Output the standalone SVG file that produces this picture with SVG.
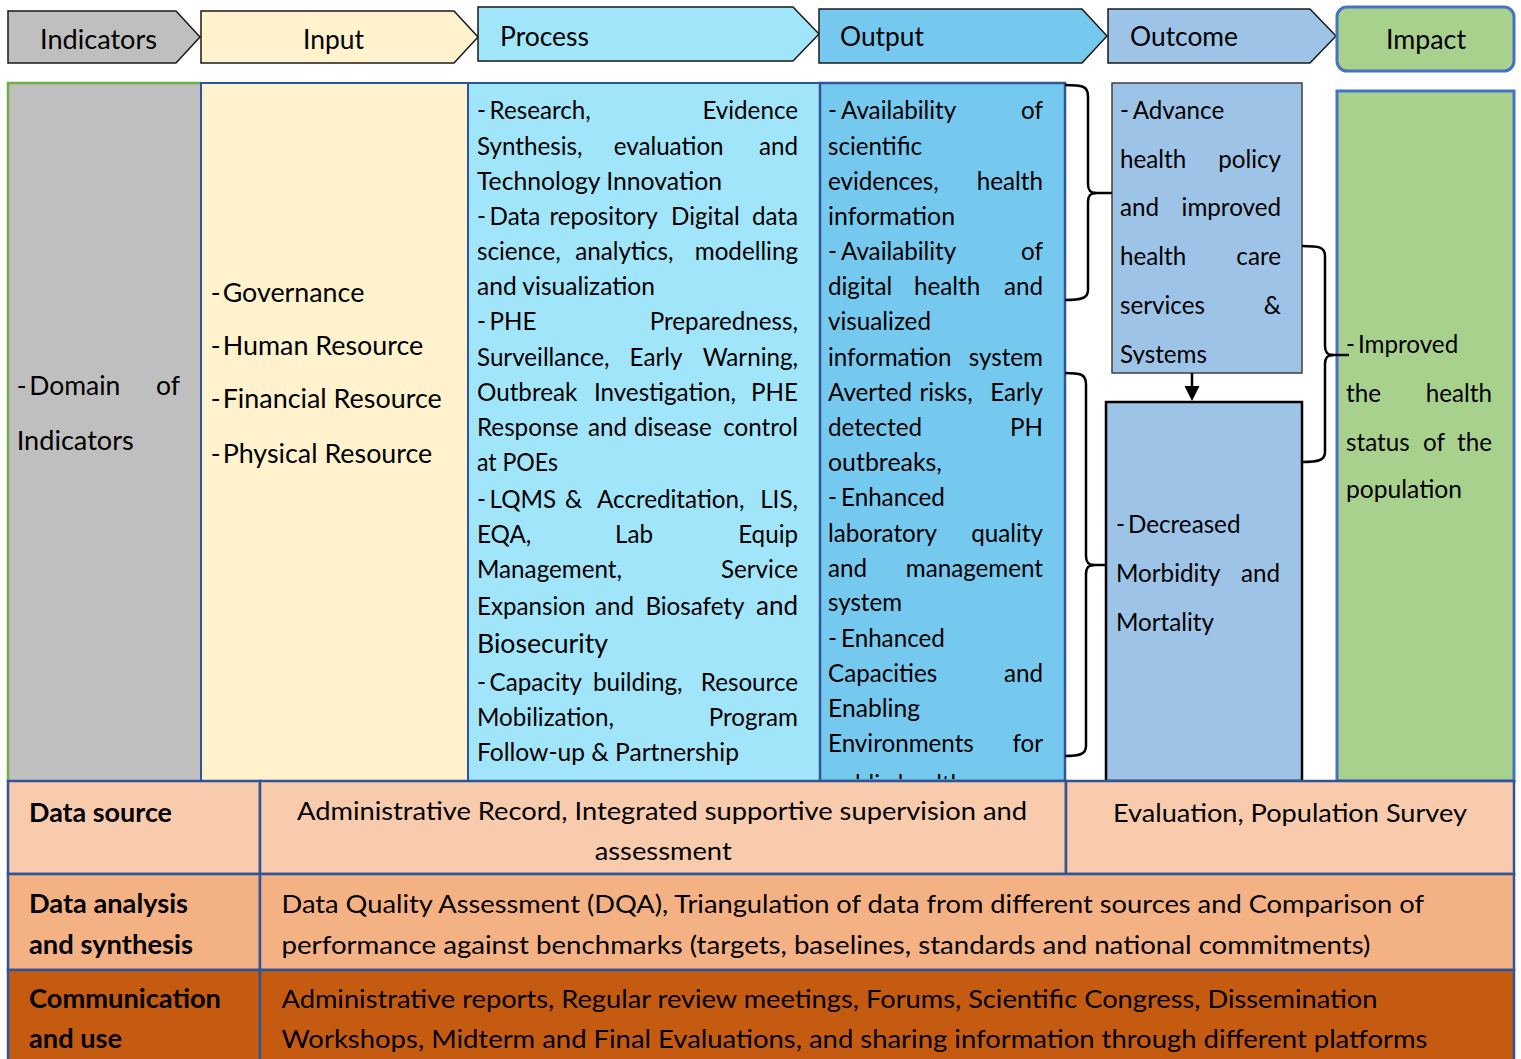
<svg xmlns="http://www.w3.org/2000/svg" width="1521" height="1059" viewBox="0 0 1521 1059">
<style>
text{font-family:Lato,"Liberation Sans",sans-serif;fill:#000}
.t{font-size:24.2px}
.in{font-size:26.5px}
.hd{font-size:26px}
.b{font-size:26px;font-weight:bold}
.arw{stroke:#1a1a1a;stroke-width:1.5}
.brace{fill:none;stroke:#000;stroke-width:2.5}
.cell{stroke:#2F5597;stroke-width:2.5}
</style>
<defs>
<clipPath id="clipOut"><rect x="820" y="83" width="245" height="696"/></clipPath>
<clipPath id="clipOc1"><rect x="1112" y="83" width="190" height="281"/></clipPath>
</defs>
<rect width="1521" height="1059" fill="#fff"/>

<g id="headers">
<g id="h-indicators"><polygon class="arw" points="8,11 176,11 200,37 176,63 8,63" fill="#BFBFBF"/><text class="hd" x="40" y="49" textLength="117" lengthAdjust="spacingAndGlyphs">Indicators</text></g>
<g id="h-input"><polygon class="arw" points="201,11 454,11 478,37 454,63 201,63" fill="#FFF2CC"/><text class="hd" x="303" y="49" textLength="61" lengthAdjust="spacingAndGlyphs">Input</text></g>
<g id="h-process"><polygon class="arw" points="478,7 793,7 819,34 793,61 478,61" fill="#A1E5FA"/><text class="hd" x="500" y="45.5" textLength="89" lengthAdjust="spacingAndGlyphs">Process</text></g>
<g id="h-output"><polygon class="arw" points="819,9 1082,9 1107,36 1082,63 819,63" fill="#75C9EE"/><text class="hd" x="840" y="46" textLength="84" lengthAdjust="spacingAndGlyphs">Output</text></g>
<g id="h-outcome"><polygon class="arw" points="1108,9 1310,9 1336,36 1310,63 1108,63" fill="#9DC3E6"/><text class="hd" x="1130" y="46" textLength="108" lengthAdjust="spacingAndGlyphs">Outcome</text></g>
<g id="h-impact"><rect x="1337" y="7" width="177" height="64" rx="10" fill="#A9D18E" stroke="#4472C4" stroke-width="3"/><text class="hd" x="1386" y="49" textLength="80" lengthAdjust="spacingAndGlyphs">Impact</text></g>
</g>

<g id="col-indicators">
<rect x="8" y="83" width="193" height="698" fill="#BFBFBF"/>
<path d="M8,781 L8,83 L201,83" fill="none" stroke="#70AD47" stroke-width="2.5"/>
<text class="in" y="395"><tspan x="16.7">-</tspan><tspan x="29.3">Domain</tspan><tspan x="180" text-anchor="end">of</tspan></text>
<text class="in" x="16.7" y="450" textLength="117" lengthAdjust="spacingAndGlyphs">Indicators</text>
</g>

<g id="col-input">
<rect x="201" y="83" width="267" height="698" fill="#FFF2CC" stroke="#2F5597" stroke-width="2"/>
<text class="in" y="302"><tspan x="210.7">-</tspan><tspan x="222.7" textLength="141.6" lengthAdjust="spacingAndGlyphs">Governance</tspan></text>
<text class="in" y="355"><tspan x="210.7">-</tspan><tspan x="222.7" textLength="200.6" lengthAdjust="spacingAndGlyphs">Human Resource</tspan></text>
<text class="in" y="408"><tspan x="210.7">-</tspan><tspan x="222.7" textLength="219" lengthAdjust="spacingAndGlyphs">Financial Resource</tspan></text>
<text class="in" y="463"><tspan x="210.7">-</tspan><tspan x="222.7" textLength="209.6" lengthAdjust="spacingAndGlyphs">Physical Resource</tspan></text>
</g>

<g id="col-process">
<rect x="468" y="83" width="352" height="698" fill="#A1E5FA" stroke="#2F5597" stroke-width="2"/>
<g class="t">
<text y="119"><tspan x="477">-</tspan><tspan x="489.6">Research,</tspan><tspan x="798" text-anchor="end">Evidence</tspan></text>
<text y="155"><tspan x="477">Synthesis,</tspan><tspan x="613.7">evaluation</tspan><tspan x="798" text-anchor="end">and</tspan></text>
<text x="477" y="190" textLength="245" lengthAdjust="spacingAndGlyphs">Technology Innovation</text>
<text y="225"><tspan x="477">-</tspan><tspan x="489.6">Data</tspan><tspan x="549.5">repository</tspan><tspan x="671">Digital</tspan><tspan x="798" text-anchor="end">data</tspan></text>
<text y="260"><tspan x="477">science,</tspan><tspan x="575.3">analytics,</tspan><tspan x="798" text-anchor="end">modelling</tspan></text>
<text x="477" y="295" textLength="178" lengthAdjust="spacingAndGlyphs">and visualization</text>
<text y="330"><tspan x="477">-</tspan><tspan x="489.6">PHE</tspan><tspan x="798" text-anchor="end">Preparedness,</tspan></text>
<text y="366"><tspan x="477">Surveillance,</tspan><tspan x="629.6">Early</tspan><tspan x="798" text-anchor="end">Warning,</tspan></text>
<text y="401"><tspan x="477">Outbreak</tspan><tspan x="593.9">Investigation,</tspan><tspan x="798" text-anchor="end">PHE</tspan></text>
<text y="436"><tspan x="477">Response</tspan><tspan x="588">and</tspan><tspan x="634">disease</tspan><tspan x="798" text-anchor="end">control</tspan></text>
<text x="477" y="471" textLength="81" lengthAdjust="spacingAndGlyphs">at POEs</text>
<text y="508"><tspan x="477">-</tspan><tspan x="489.6">LQMS</tspan><tspan x="565">&amp;</tspan><tspan x="597">Accreditation,</tspan><tspan x="798" text-anchor="end">LIS,</tspan></text>
<text y="543"><tspan x="477">EQA,</tspan><tspan x="615">Lab</tspan><tspan x="798" text-anchor="end">Equip</tspan></text>
<text y="578"><tspan x="477">Management,</tspan><tspan x="798" text-anchor="end">Service</tspan></text>
<text y="615"><tspan x="477">Expansion</tspan><tspan x="595">and</tspan><tspan x="645.4">Biosafety</tspan><tspan x="798" text-anchor="end" style="font-size:26px">and</tspan></text>
<text x="477" y="653" style="font-size:26.5px" textLength="131" lengthAdjust="spacingAndGlyphs">Biosecurity</text>
<text y="691"><tspan x="477">-</tspan><tspan x="489.6">Capacity</tspan><tspan x="593">building,</tspan><tspan x="798" text-anchor="end">Resource</tspan></text>
<text y="726"><tspan x="477">Mobilization,</tspan><tspan x="798" text-anchor="end">Program</tspan></text>
<text x="477" y="761" textLength="262" lengthAdjust="spacingAndGlyphs">Follow-up &amp; Partnership</text>
</g>
</g>

<g id="col-output">
<rect x="820" y="83" width="245" height="698" fill="#75C9EE" stroke="#2F5597" stroke-width="2.5"/>
<g class="t" clip-path="url(#clipOut)">
<text y="119"><tspan x="828">-</tspan><tspan x="841">Availability</tspan><tspan x="1043" text-anchor="end">of</tspan></text>
<text x="828" y="155" textLength="94" lengthAdjust="spacingAndGlyphs">scientific</text>
<text y="190"><tspan x="828">evidences,</tspan><tspan x="1043" text-anchor="end">health</tspan></text>
<text x="828" y="225" textLength="127" lengthAdjust="spacingAndGlyphs">information</text>
<text y="260"><tspan x="828">-</tspan><tspan x="841">Availability</tspan><tspan x="1043" text-anchor="end">of</tspan></text>
<text y="295"><tspan x="828">digital</tspan><tspan x="914">health</tspan><tspan x="1043" text-anchor="end">and</tspan></text>
<text x="828" y="330" textLength="103" lengthAdjust="spacingAndGlyphs">visualized</text>
<text y="366"><tspan x="828">information</tspan><tspan x="1043" text-anchor="end">system</tspan></text>
<text y="401"><tspan x="828">Averted</tspan><tspan x="919.5">risks,</tspan><tspan x="1043" text-anchor="end">Early</tspan></text>
<text y="436"><tspan x="828">detected</tspan><tspan x="1043" text-anchor="end">PH</tspan></text>
<text x="828" y="471" textLength="114" lengthAdjust="spacingAndGlyphs">outbreaks,</text>
<text y="506"><tspan x="828">-</tspan><tspan x="841">Enhanced</tspan></text>
<text y="542"><tspan x="828">laboratory</tspan><tspan x="1043" text-anchor="end">quality</tspan></text>
<text y="577"><tspan x="828">and</tspan><tspan x="1043" text-anchor="end">management</tspan></text>
<text x="828" y="611" textLength="74" lengthAdjust="spacingAndGlyphs">system</text>
<text y="647"><tspan x="828">-</tspan><tspan x="841">Enhanced</tspan></text>
<text y="682"><tspan x="828">Capacities</tspan><tspan x="1043" text-anchor="end">and</tspan></text>
<text x="828" y="717" textLength="92" lengthAdjust="spacingAndGlyphs">Enabling</text>
<text y="752"><tspan x="828">Environments</tspan><tspan x="1043" text-anchor="end">for</tspan></text>
<text x="828" y="793">public health</text>
</g>
</g>

<g id="outcome-advance">
<rect x="1112" y="83" width="190" height="290" fill="#9DC3E6" stroke="#404040" stroke-width="1.5"/>
<g class="t">
<text y="119"><tspan x="1120">-</tspan><tspan x="1132.7">Advance</tspan></text>
<text y="168"><tspan x="1120">health</tspan><tspan x="1281" text-anchor="end">policy</tspan></text>
<text y="216"><tspan x="1120">and</tspan><tspan x="1281" text-anchor="end">improved</tspan></text>
<text y="265"><tspan x="1120">health</tspan><tspan x="1281" text-anchor="end">care</tspan></text>
<text y="314"><tspan x="1120">services</tspan><tspan x="1281" text-anchor="end">&amp;</tspan></text>
<text x="1120" y="363" clip-path="url(#clipOc1)">Systems</text>
</g>
</g>

<g id="outcome-decreased">
<rect x="1106" y="402" width="196" height="379" fill="#9DC3E6" stroke="#000" stroke-width="2.5"/>
<g class="t">
<text y="533"><tspan x="1116">-</tspan><tspan x="1128">Decreased</tspan></text>
<text y="582"><tspan x="1116">Morbidity</tspan><tspan x="1280" text-anchor="end">and</tspan></text>
<text x="1116" y="631">Mortality</text>
</g>
</g>

<g id="impact">
<rect x="1337" y="91" width="177" height="690" fill="#A9D18E" stroke="#4472C4" stroke-width="3"/>
<g class="t">
<text y="353"><tspan x="1346">-</tspan><tspan x="1358">Improved</tspan></text>
<text y="402"><tspan x="1346">the</tspan><tspan x="1492" text-anchor="end">health</tspan></text>
<text y="451"><tspan x="1346">status</tspan><tspan x="1423">of</tspan><tspan x="1492" text-anchor="end">the</tspan></text>
<text x="1346" y="498" textLength="116" lengthAdjust="spacingAndGlyphs">population</text>
</g>
</g>

<g id="connectors">
<path class="brace" d="M1065,85 C1082,85 1088,86 1088,96 L1088,184 C1088,191 1091,193 1096,193 C1091,193 1088,195 1088,202 L1088,290 C1088,298 1082,300 1065,300"/>
<line x1="1093" y1="193" x2="1112" y2="193" stroke="#000" stroke-width="2.5"/>
<path class="brace" d="M1065,373 C1080,373 1086,374 1086,384 L1086,556 C1086,563 1089,565 1094,565 C1089,565 1086,567 1086,574 L1086,746 C1086,754 1080,756 1065,756"/>
<line x1="1091" y1="565" x2="1106" y2="565" stroke="#000" stroke-width="2.5"/>
<path class="brace" d="M1302,246 C1319,246 1325,247 1325,256 L1325,346 C1325,353 1328,355 1333,355 C1328,355 1325,357 1325,364 L1325,452 C1325,460 1319,462 1302,462"/>
<line x1="1330" y1="355" x2="1349" y2="355" stroke="#000" stroke-width="2.5"/>
<line x1="1192" y1="373" x2="1192" y2="388" stroke="#000" stroke-width="2.5"/>
<polygon points="1184.5,386 1199.5,386 1192,401" fill="#000"/>
</g>

<g id="row-datasource">
<rect class="cell" x="8" y="781" width="252" height="93" fill="#F8CBAD"/>
<rect class="cell" x="260" y="781" width="806" height="93" fill="#F8CBAD"/>
<rect class="cell" x="1066" y="781" width="448" height="93" fill="#F8CBAD"/>
<text class="b" x="29" y="821.7" textLength="143" lengthAdjust="spacingAndGlyphs">Data source</text>
<text class="t" x="297" y="820" textLength="730" lengthAdjust="spacingAndGlyphs">Administrative Record, Integrated supportive supervision and</text>
<text class="t" x="594.7" y="860" textLength="137" lengthAdjust="spacingAndGlyphs">assessment</text>
<text class="t" x="1113" y="821.7" textLength="354" lengthAdjust="spacingAndGlyphs">Evaluation, Population Survey</text>
</g>

<g id="row-analysis">
<rect class="cell" x="8" y="874" width="252" height="96" fill="#F4B183"/>
<rect class="cell" x="260" y="874" width="1254" height="96" fill="#F4B183"/>
<text class="b" x="29" y="912.7" textLength="159" lengthAdjust="spacingAndGlyphs">Data analysis</text>
<text class="b" x="29" y="954" textLength="164" lengthAdjust="spacingAndGlyphs">and synthesis</text>
<text class="t" x="281.5" y="912.7" textLength="1142.5" lengthAdjust="spacingAndGlyphs">Data Quality Assessment (DQA), Triangulation of data from different sources and Comparison of</text>
<text class="t" x="281.5" y="954" textLength="1089" lengthAdjust="spacingAndGlyphs">performance against benchmarks (targets, baselines, standards and national commitments)</text>
</g>

<g id="row-communication">
<rect class="cell" x="8" y="970" width="252" height="100" fill="#C55A11"/>
<rect class="cell" x="260" y="970" width="1254" height="100" fill="#C55A11"/>
<text class="b" x="29" y="1008" textLength="192" lengthAdjust="spacingAndGlyphs">Communication</text>
<text class="b" x="29" y="1048" textLength="93" lengthAdjust="spacingAndGlyphs">and use</text>
<text class="t" x="281.5" y="1008" textLength="1096" lengthAdjust="spacingAndGlyphs">Administrative reports, Regular review meetings, Forums, Scientific Congress, Dissemination</text>
<text class="t" x="281.5" y="1048" textLength="1146" lengthAdjust="spacingAndGlyphs">Workshops, Midterm and Final Evaluations, and sharing information through different platforms</text>
</g>
</svg>
